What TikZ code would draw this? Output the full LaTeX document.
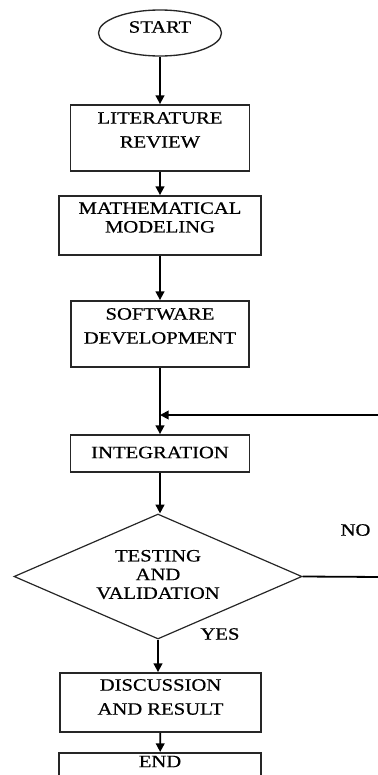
\documentclass[tikz,border=0pt]{standalone}
\usepackage{fontspec}
\setmainfont{Liberation Serif}[FakeStretch=1.19,FakeBold=0.6]
\usetikzlibrary{arrows.meta,positioning,shapes.geometric}
\tikzset{
  box/.style={rectangle, draw=black!85, line width=1.35pt, inner sep=0pt},
  size/.style 2 args={minimum width=#1*0.75pt, minimum height=#2*0.75pt},
  txt/.style={align=center, font=\fontsize{13}{18}\selectfont, inner sep=0pt},
  tight/.style={font=\fontsize{13}{14}\selectfont},
  arr/.style={-{Triangle[length=6.5pt,width=6.5pt]}, line width=1.35pt},
}
\begin{document}
\begin{tikzpicture}[x=0.75pt,y=-0.75pt]
  \useasboundingbox (0,0) rectangle (378,775);
  % terminal
  \node[ellipse, draw=black!85, line width=1pt, inner sep=0pt, size={123}{46}] (start) at (160,33) {};
  \node[txt] (startT) at (160,27) {START};
  % process boxes
  \node[box, size={179}{66}] (lit) at (160,138) {};
  \node[txt] (litT) at (160,130) {LITERATURE\\REVIEW};
  \node[box, size={202}{59}] (math) at (160,225.5) {};
  \node[txt, tight] (mathT) at (160,217.5) {MATHEMATICAL\\MODELING};
  \node[box, size={178}{66}] (soft) at (160,334) {};
  \node[txt] (softT) at (160,326) {SOFTWARE\\DEVELOPMENT};
  \node[box, size={179}{37}] (integ) at (160,453.5) {};
  \node[txt] (integT) at (160,452.5) {INTEGRATION};
  % decision
  \node[diamond, draw=black!85, line width=0.9pt, inner sep=0pt, size={288}{125}] (test) at (158,576.5) {};
  \node[txt, tight] (testT) at (158,574.5) {TESTING\\AND\\VALIDATION};
  \node[txt] (yes) at (220,634) {YES};
  \node[txt] (no) at (355.5,530) {NO};
  \node[box, size={201}{59}] (disc) at (160.5,702.5) {};
  \node[txt] (discT) at (160.5,697) {DISCUSSION\\AND RESULT};
  \node[box, size={202}{40}, anchor=north] (fin) at (160,752) {};
  \node[txt] (finT) at (160,761.5) {END};
  % loop back
  \coordinate (fbR) at (382,577);
  \coordinate (fbT) at (382,415);
  \coordinate (join) at (160,415);
  % connectors
  \draw[arr] (start) -- (lit);
  \draw[arr] (lit) -- (math);
  \draw[arr] (math) -- (soft);
  \draw[arr] (soft) -- (integ);
  \draw[arr] (integ.south) -- (integ.south |- test.north);
  \draw[line width=1.35pt] (test.east) -- (fbR) -- (fbT);
  \draw[arr] (fbT) -- (join);
  \draw[arr] (test.south) -- (test.south |- disc.north);
  \draw[arr] (disc) -- (fin);
\end{tikzpicture}
\end{document}
